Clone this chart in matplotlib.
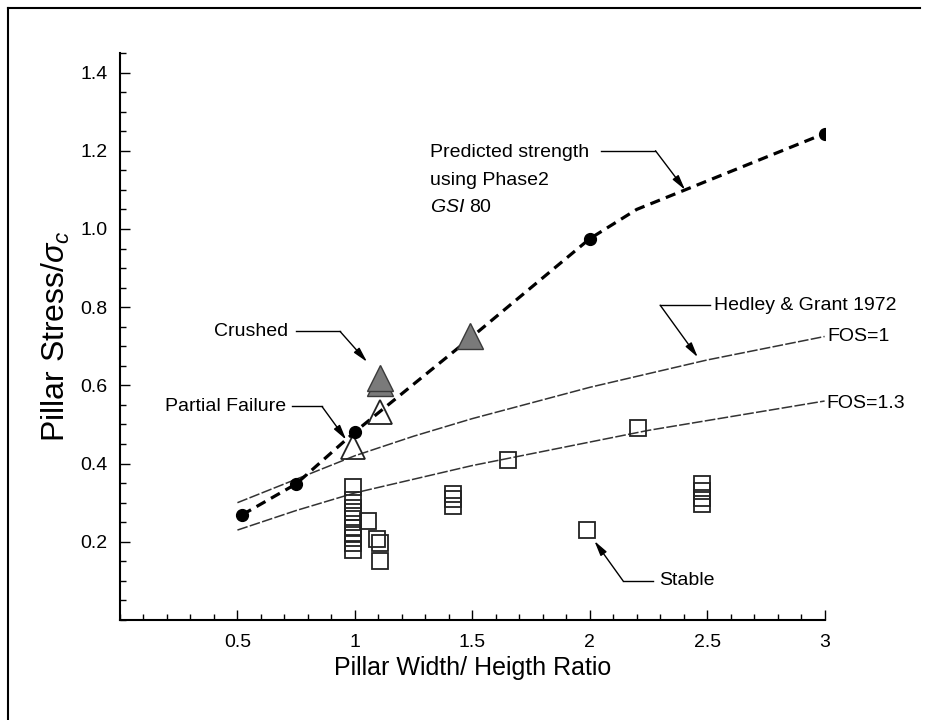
import matplotlib.pyplot as plt
from matplotlib.ticker import MultipleLocator, FixedLocator, FormatStrFormatter
from matplotlib.lines import Line2D

plt.rcParams['font.family'] = ['Liberation Sans', 'DejaVu Sans']
plt.rcParams['mathtext.fontset'] = 'custom'
plt.rcParams['mathtext.rm'] = 'Liberation Sans'
plt.rcParams['mathtext.it'] = 'Liberation Sans:italic'

# ---------------------------------------------------------------------------
# Data
# ---------------------------------------------------------------------------
# Phase2 predicted strength (GSI 80), dashed curve and its solved points
phase2_x = [0.52, 0.75, 1.0, 1.5, 2.0, 2.2, 3.0]
phase2_y = [0.269, 0.348, 0.481, 0.725, 0.975, 1.05, 1.244]
phase2_pts_x = [0.52, 0.75, 1.0, 2.0, 3.0]
phase2_pts_y = [0.269, 0.348, 0.481, 0.975, 1.244]

# Hedley & Grant 1972 empirical curves
hg_x = [0.5, 0.75, 1.0, 1.25, 1.5, 1.75, 2.0, 2.25, 2.5, 2.75, 3.0]
hg_fos1 = [0.30, 0.36, 0.42, 0.47, 0.515, 0.555, 0.595, 0.63, 0.665, 0.695, 0.725]
hg_fos13 = [0.23, 0.28, 0.325, 0.36, 0.395, 0.425, 0.455, 0.485, 0.51, 0.535, 0.56]

# field observations
crushed_x = [1.107, 1.107, 1.49]
crushed_y = [0.605, 0.62, 0.727]
partial_x = [0.99, 1.107]
partial_y = [0.443, 0.531]
stable_x = [0.99] * 10 + [1.056, 1.095, 1.107, 1.107,
                          1.418, 1.418, 1.418, 1.652, 1.99, 2.206,
                          2.479, 2.479, 2.479, 2.479]
stable_y = [0.340, 0.306, 0.287, 0.275, 0.258, 0.236, 0.223, 0.210, 0.198, 0.179,
            0.254, 0.207, 0.197, 0.151,
            0.3225, 0.31, 0.292, 0.41, 0.23, 0.491,
            0.3466, 0.330, 0.312, 0.297]

# ---------------------------------------------------------------------------
fig = plt.figure(figsize=(9.27, 7.2), dpi=100)
ax = fig.add_axes([120 / 927, 1 - 620 / 720, (824.6 - 120) / 927, (620 - 53) / 720])

# outer frame of the scanned figure
fig.add_artist(Line2D([8 / 927, 8 / 927], [0, 1 - 8 / 720], color='black', lw=1.5,
                      transform=fig.transFigure))
fig.add_artist(Line2D([8 / 927, 920 / 927], [1 - 8 / 720, 1 - 8 / 720], color='black', lw=1.5,
                      transform=fig.transFigure))

hg_kw = dict(color='#333333', lw=1.1, dashes=(7, 1.5))
ax.plot(hg_x, hg_fos1, **hg_kw)
ax.plot(hg_x, hg_fos13, **hg_kw)

ax.plot(phase2_x, phase2_y, color='black', lw=2.3, dashes=(3.2, 2.0), zorder=3)

ax.plot(stable_x, stable_y, ls='none', marker='s', ms=11, mfc='none', mec='#222222',
        mew=1.3, zorder=4)
ax.plot(partial_x, partial_y, ls='none', marker='^', ms=17, mfc='none', mec='#222222',
        mew=1.3, zorder=4)
ax.plot(crushed_x, crushed_y, ls='none', marker='^', ms=19, mfc='#7a7a7a', mec='#3a3a3a',
        mew=1.0, zorder=5)
ax.plot(phase2_pts_x, phase2_pts_y, ls='none', marker='o', ms=8.5, color='black', zorder=6)

# ---------------------------------------------------------------------------
# annotations: text + horizontal leader + diagonal arrow
ann_fs = 14
arrow_kw = dict(arrowstyle='-|>,head_length=0.9,head_width=0.22', color='black',
                lw=1.0, shrinkA=0, shrinkB=0)


def leader(x0, x1, y, tip):
    ax.plot([x0, x1], [y, y], color='black', lw=1.0, clip_on=False)
    ax.annotate('', xy=tip, xytext=(x1, y), arrowprops=arrow_kw, annotation_clip=False)


ax.text(1.32, 1.217, 'Predicted strength\nusing Phase2\n$\\mathit{GSI}$ 80', fontsize=ann_fs,
        ha='left', va='top', linespacing=1.8)
leader(2.05, 2.28, 1.2, (2.406, 1.10))

ax.text(2.53, 0.805, 'Hedley & Grant 1972', fontsize=ann_fs, ha='left', va='center')
leader(2.51, 2.30, 0.805, (2.46, 0.672))

ax.text(3.01, 0.725, 'FOS=1', fontsize=ann_fs, ha='left', va='center', clip_on=False)
ax.text(3.007, 0.553, 'FOS=1.3', fontsize=ann_fs, ha='left', va='center', clip_on=False)

ax.text(0.716, 0.738, 'Crushed', fontsize=ann_fs, ha='right', va='center')
leader(0.75, 0.937, 0.738, (1.052, 0.66))

ax.text(0.707, 0.546, 'Partial Failure', fontsize=ann_fs, ha='right', va='center')
leader(0.733, 0.86, 0.546, (0.963, 0.461))

ax.text(2.296, 0.1, 'Stable', fontsize=ann_fs, ha='left', va='center')
leader(2.27, 2.142, 0.1, (2.02, 0.202))

# ---------------------------------------------------------------------------
ax.set_xlim(0, 3.0)
ax.set_ylim(0, 1.45)
ax.spines['top'].set_visible(False)
ax.spines['right'].set_visible(False)
for s in ('left', 'bottom'):
    ax.spines[s].set_linewidth(1.5)

ax.xaxis.set_major_locator(FixedLocator([0.5, 1.0, 1.5, 2.0, 2.5, 3.0]))
ax.xaxis.set_major_formatter(FormatStrFormatter('%g'))
ax.xaxis.set_minor_locator(MultipleLocator(0.1))
ax.yaxis.set_major_locator(FixedLocator([0.2, 0.4, 0.6, 0.8, 1.0, 1.2, 1.4]))
ax.yaxis.set_major_formatter(FormatStrFormatter('%.1f'))
ax.yaxis.set_minor_locator(MultipleLocator(0.05))
ax.tick_params(which='both', direction='in', top=False, right=False, width=1.0)
ax.tick_params(which='major', length=7, labelsize=14)
ax.tick_params(which='minor', length=4)
ax.tick_params(axis='x', which='major', pad=10)
ax.tick_params(axis='y', which='major', pad=9)

ax.set_xlabel('Pillar Width/ Heigth Ratio', fontsize=18, labelpad=4)
ax.set_ylabel('Pillar Stress/$\\sigma_c$', fontsize=23, labelpad=6)

fig.savefig('out.png', dpi=100)
